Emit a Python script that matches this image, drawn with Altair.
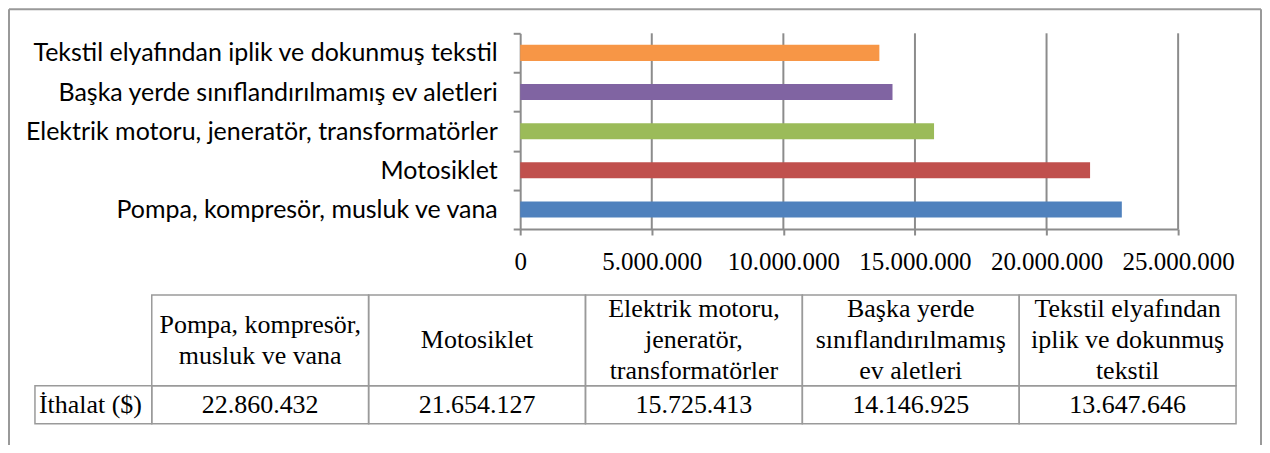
import altair as alt
import pandas as pd

categories = [
    "Pompa, kompresör, musluk ve vana",
    "Motosiklet",
    "Elektrik motoru, jeneratör, transformatörler",
    "Başka yerde sınıflandırılmamış ev aletleri",
    "Tekstil elyafından iplik ve dokunmuş tekstil",
]
values = [22860432, 21654127, 15725413, 14146925, 13647646]
colors = ["#4F81BD", "#C0504D", "#9BBB59", "#8064A2", "#F79646"]
x_ticks = [0, 5000000, 10000000, 15000000, 20000000, 25000000]
table_headers = [
    "Pompa, kompresör,\nmusluk ve vana",
    "Motosiklet",
    "Elektrik motoru,\njeneratör,\ntransformatörler",
    "Başka yerde\nsınıflandırılmamış\nev aletleri",
    "Tekstil elyafından\niplik ve dokunmuş\ntekstil",
]
row_label = "İthalat ($)"

W, H = 1254, 435
GRAY = "#8c8c8c"
SERIF = "Liberation Serif"
LINE_H = 31


def tr(v):
    return f"{v:,}".replace(",", ".")


bars_df = pd.DataFrame({"cat": categories, "val": values})
grid_df = pd.DataFrame({"g": x_ticks[1:]})

x_scale = alt.Scale(domain=[0, 25000000], range=[512, 1171], nice=False, zero=True)
x_axis = alt.Axis(
    values=x_ticks, format=",d", title=None, offset=220 - H, grid=False,
    domainColor=GRAY, domainWidth=2, tickColor=GRAY, tickWidth=2, tickSize=6,
    labelFont=SERIF, labelFontSize=25, labelColor="black", labelPadding=15,
    labelBaseline="top", labelFlush=False,
)
y_scale = alt.Scale(domain=categories[::-1], range=[24, 220], paddingInner=0, paddingOuter=0)

grid = alt.Chart(grid_df).mark_rule(color=GRAY, strokeWidth=2).encode(
    x=alt.X("g:Q", scale=x_scale, axis=x_axis),
    y=alt.value(24),
    y2=alt.value(220),
)

bars = alt.Chart(bars_df).mark_bar(height={"band": 0.41}).encode(
    x=alt.X("val:Q", scale=x_scale, axis=x_axis),
    y=alt.Y(
        "cat:N",
        sort=categories[::-1],
        scale=y_scale,
        axis=alt.Axis(
            title=None, offset=-512, tickBand="extent", grid=False,
            domainColor=GRAY, domainWidth=2, tickColor=GRAY, tickWidth=2, tickSize=7,
            labelFont="Lato", labelFontSize=25, labelColor="black", labelPadding=16,
            labelLimit=700,
        ),
    ),
    color=alt.Color("cat:N", scale=alt.Scale(domain=categories, range=colors), legend=None),
)

bar_panel = alt.layer(grid, bars)

# table structure: column 0 = row header column, 1..5 = data columns; row 0 = header, 1 = values
cell_rows = []
for j in range(5):
    cell_rows.append({"c0": j + 1, "c1": j + 2, "r0": 0, "r1": 1})
cell_rows.append({"c0": 0, "c1": 1, "r0": 1, "r1": 2})
for j in range(5):
    cell_rows.append({"c0": j + 1, "c1": j + 2, "r0": 1, "r1": 2})
cells_df = pd.DataFrame(cell_rows)

tx = alt.Scale(domain=[0, 1, 6], range=[26, 143, 1229], zero=False, nice=False)
ty = alt.Scale(domain=[0, 1, 2], range=[286, 377, 415], zero=False, nice=False)

cells = alt.Chart(cells_df).mark_rect(
    fill="white", fillOpacity=0, stroke="#9a9a9a", strokeWidth=1.5
).encode(
    x=alt.X("c0:Q", scale=tx, axis=None),
    x2="c1:Q",
    y=alt.Y("r0:Q", scale=ty, axis=None),
    y2="r1:Q",
)

text_rows = []
for j in range(5):
    text_rows.append({"xm": j + 1.5, "ym": 0.5, "t": table_headers[j],
                      "n": table_headers[j].count("\n") + 1})
    text_rows.append({"xm": j + 1.5, "ym": 1.5, "t": tr(values[j]), "n": 1})
text_df = pd.DataFrame(text_rows)

text_layers = []
for n in (1, 2, 3):
    text_layers.append(
        alt.Chart(text_df).transform_filter(alt.datum.n == n).mark_text(
            font=SERIF, fontSize=26, color="black", lineBreak="\n", lineHeight=LINE_H,
            baseline="middle", align="center", dy=-(n - 1) * LINE_H / 2,
        ).encode(
            x=alt.X("xm:Q", scale=tx, axis=None),
            y=alt.Y("ym:Q", scale=ty, axis=None),
            text="t:N",
        )
    )

row_df = pd.DataFrame({"xm": [0], "ym": [1.5], "t": [row_label]})
row_text = alt.Chart(row_df).mark_text(
    font=SERIF, fontSize=26, color="black", baseline="middle", align="left", dx=4,
).encode(
    x=alt.X("xm:Q", scale=tx, axis=None),
    y=alt.Y("ym:Q", scale=ty, axis=None),
    text="t:N",
)

frame_df = pd.DataFrame({"k": [0]})
frame_left = alt.Chart(frame_df).mark_rule(color="#999999", strokeWidth=2).encode(
    x=alt.value(0), y=alt.value(0), y2=alt.value(H + 10)
)
frame_top = alt.Chart(frame_df).mark_rule(color="#999999", strokeWidth=2).encode(
    x=alt.value(0), x2=alt.value(W), y=alt.value(0)
)
frame_right = alt.Chart(frame_df).mark_rule(color="#999999", strokeWidth=2).encode(
    x=alt.value(W), y=alt.value(0), y2=alt.value(H + 10)
)

chart = alt.layer(
    bar_panel, cells, *text_layers, row_text, frame_left, frame_top, frame_right
).resolve_scale(
    x="independent", y="independent", color="independent"
).properties(
    width=W, height=H, padding=1, autosize=alt.AutoSizeParams(type="none")
).configure(
    locale={"number": {"decimal": ",", "thousands": ".", "grouping": [3], "currency": ["", ""]}},
).configure_view(stroke=None)

chart.save("out.html", embed_options={"renderer": "svg", "actions": False})
